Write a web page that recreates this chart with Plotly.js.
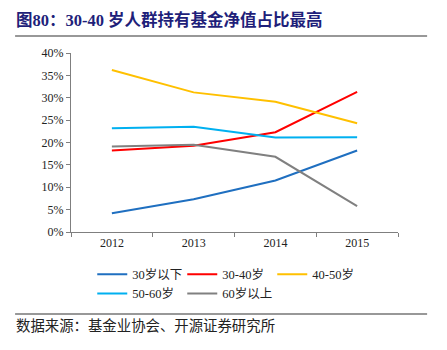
<!DOCTYPE html>
<html><head><meta charset="utf-8">
<script src="https://cdn.plot.ly/plotly-3.0.1.min.js"></script>
<style>body{margin:0;background:#fff}#c{width:447px;height:350px}</style>
</head><body><div id="c"></div>
<script>
const years = ['2012','2013','2014','2015'];
const under30 = [4.2, 7.3, 11.5, 18.2];
const age30_40 = [18.2, 19.3, 22.3, 31.3];
const age40_50 = [36.2, 31.2, 29.1, 24.3];
const age50_60 = [23.2, 23.5, 21.1, 21.2];
const over60 = [19.1, 19.5, 16.8, 5.8];
const seriesNames = ['30岁以下','30-40岁','40-50岁','50-60岁','60岁以上'];
const colors = ['#1F6FC0','#FF0000','#FFC000','#00B0F0','#808080'];
const allSeries = [under30, age30_40, age40_50, age50_60, over60];
const serif = "Liberation Serif, Times New Roman, Noto Sans CJK SC, serif";

const traces = allSeries.map((v,i)=>({
  x: years, y: v, type:'scatter', mode:'lines', name: seriesNames[i],
  line:{color:colors[i], width:2}
}));

const layout = {
  width:447, height:350,
  margin:{l:71, r:49, t:53, b:118},
  paper_bgcolor:'#fff', plot_bgcolor:'#fff',
  font:{family:serif, size:12, color:'#222'},
  showlegend:true,
  legend:{orientation:'h', x:0.065, xanchor:'left', y:-0.155, yanchor:'top',
    entrywidth:45, font:{family:serif, size:12.5, color:'#222'}, bgcolor:'rgba(0,0,0,0)'},
  xaxis:{type:'category', range:[-0.5,3.5], showline:true, linecolor:'#7f7f7f', linewidth:1,
    ticks:'outside', tickson:'boundaries', ticklen:4, tickcolor:'#7f7f7f', showgrid:false,
    tickfont:{family:serif, size:12, color:'#222'}, fixedrange:true},
  yaxis:{range:[0,40], dtick:5, ticksuffix:'%', showline:true, linecolor:'#7f7f7f', linewidth:1,
    ticks:'outside', ticklen:4, tickcolor:'#7f7f7f', showgrid:false, zeroline:false,
    tickfont:{family:serif, size:12, color:'#222'}, fixedrange:true},
  shapes:[
    {type:'line', xref:'paper', yref:'paper', x0:-0.171, x1:1.089, y0:1.095, y1:1.095, line:{color:'#333', width:1.2}},
    {type:'line', xref:'paper', yref:'paper', x0:-0.171, x1:1.089, y0:-0.458, y1:-0.458, line:{color:'#333', width:1.2}}
  ],
  annotations:[
    {xref:'paper', yref:'paper', x:-0.174, y:1.185, xanchor:'left', yanchor:'middle', showarrow:false,
     text:'<b>图80：30-40 岁人群持有基金净值占比最高</b>', font:{family:serif, size:16.5, color:'#1F1F7A'}},
    {xref:'paper', yref:'paper', x:-0.174, y:-0.525, xanchor:'left', yanchor:'middle', showarrow:false,
     text:'数据来源：基金业协会、开源证券研究所', font:{family:serif, size:14.4, color:'#222'}}
  ]
};
Plotly.newPlot('c', traces, layout, {displayModeBar:false, staticPlot:true});
</script></body></html>
